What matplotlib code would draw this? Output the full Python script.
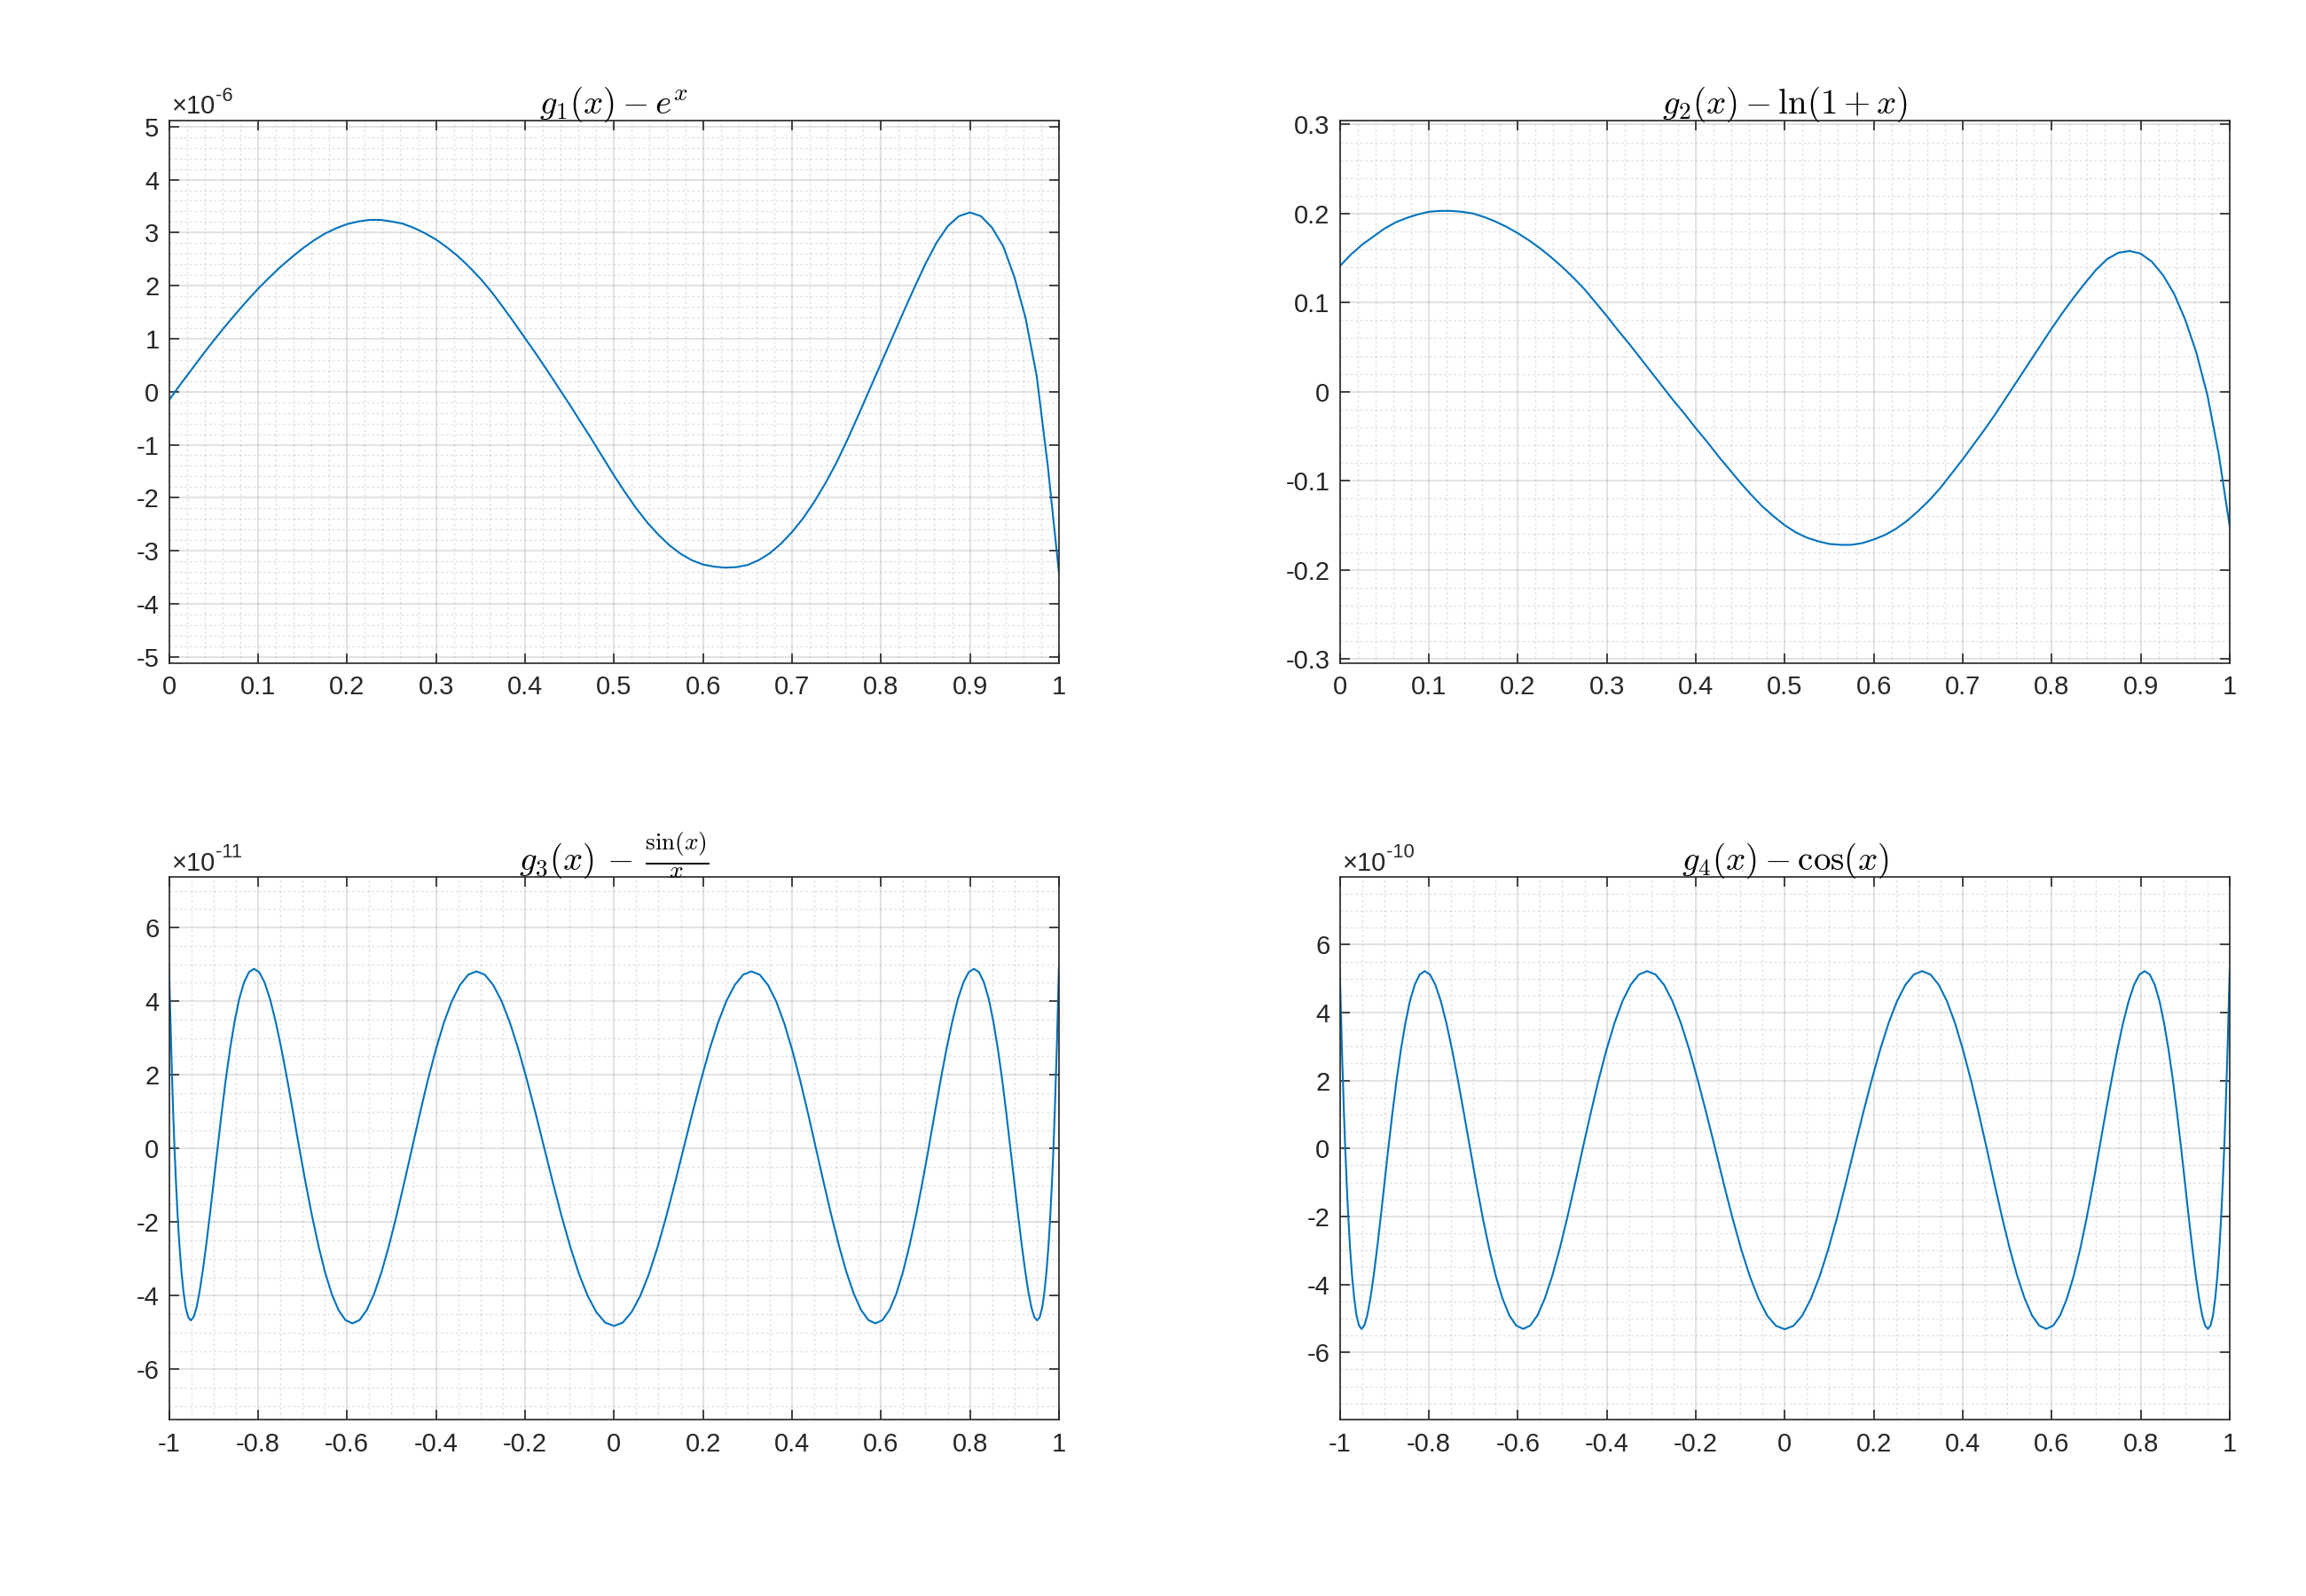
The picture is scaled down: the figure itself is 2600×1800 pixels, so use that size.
import numpy as np
import matplotlib
matplotlib.use('Agg')
from matplotlib import pyplot as plt
from matplotlib.ticker import MultipleLocator, FuncFormatter

plt.rcParams['font.family'] = ['Liberation Sans', 'DejaVu Sans']
plt.rcParams['mathtext.fontset'] = 'cm'
plt.rcParams['axes.unicode_minus'] = False

LINE_COLOR = '#0072BD'
AX_COLOR = '#262626'
FS = 10.5

# sample positions on [0, 1] for the two top plots
x_unit = [0.0, 0.0125, 0.025, 0.0375, 0.05, 0.0625, 0.075, 0.0875, 0.1, 0.1125,
          0.125, 0.1375, 0.15, 0.1625, 0.175, 0.1875, 0.2, 0.2125, 0.225, 0.2375,
          0.25, 0.2625, 0.275, 0.2875, 0.3, 0.3125, 0.325, 0.3375, 0.35, 0.3625,
          0.375, 0.3875, 0.4, 0.4125, 0.425, 0.4375, 0.45, 0.4625, 0.475, 0.4875,
          0.5, 0.5125, 0.525, 0.5375, 0.55, 0.5625, 0.575, 0.5875, 0.6, 0.6125,
          0.625, 0.6375, 0.65, 0.6625, 0.675, 0.6875, 0.7, 0.7125, 0.725, 0.7375,
          0.75, 0.7625, 0.775, 0.7875, 0.8, 0.8125, 0.825, 0.8375, 0.85, 0.8625,
          0.875, 0.8875, 0.9, 0.9125, 0.925, 0.9375, 0.95, 0.9625, 0.975, 0.9875, 1.0]

# g1(x) - e^x, in units of 1e-6
g1_y = [-0.16, 0.13, 0.41, 0.69, 0.96, 1.22, 1.47, 1.71, 1.94, 2.15,
        2.35, 2.53, 2.70, 2.85, 2.98, 3.08, 3.16, 3.21, 3.24, 3.24,
        3.21, 3.17, 3.09, 2.99, 2.87, 2.72, 2.55, 2.35, 2.13, 1.88,
        1.60, 1.31, 1.01, 0.71, 0.40, 0.08, -0.24, -0.57, -0.90, -1.24,
        -1.58, -1.90, -2.20, -2.47, -2.70, -2.90, -3.06, -3.18, -3.26, -3.30,
        -3.32, -3.31, -3.27, -3.18, -3.05, -2.87, -2.65, -2.39, -2.08, -1.73,
        -1.34, -0.90, -0.43, 0.05, 0.53, 1.01, 1.49, 1.96, 2.41, 2.81,
        3.12, 3.31, 3.38, 3.31, 3.09, 2.74, 2.16, 1.39, 0.30, -1.40, -3.41]
g1_exp = -6

# g2(x) - ln(1+x)
g2_y = [0.141, 0.154, 0.165, 0.174, 0.183, 0.190, 0.195, 0.199, 0.202, 0.203,
        0.203, 0.202, 0.200, 0.196, 0.191, 0.185, 0.178, 0.170, 0.161, 0.151,
        0.140, 0.128, 0.115, 0.100, 0.085, 0.069, 0.054, 0.038, 0.022, 0.006,
        -0.010, -0.025, -0.041, -0.056, -0.072, -0.087, -0.102, -0.116, -0.129, -0.140,
        -0.150, -0.158, -0.164, -0.168, -0.171, -0.172, -0.172, -0.170, -0.166, -0.161,
        -0.154, -0.145, -0.134, -0.122, -0.108, -0.092, -0.076, -0.059, -0.042, -0.024,
        -0.005, 0.014, 0.033, 0.052, 0.071, 0.089, 0.106, 0.122, 0.137, 0.149,
        0.156, 0.158, 0.155, 0.146, 0.131, 0.110, 0.081, 0.044, -0.004, -0.069, -0.151]

# sample positions on [-1, 1] for the two bottom plots (denser near the ends)
x_sym = [-1.0, -0.9998, -0.9992, -0.9983, -0.9969, -0.9952, -0.9931, -0.9906, -0.9877, -0.9844,
         -0.9808, -0.9768, -0.9724, -0.9676, -0.9625, -0.9569, -0.9511, -0.9448, -0.9382, -0.9312,
         -0.9239, -0.9162, -0.9081, -0.8998, -0.8910, -0.8819, -0.8725, -0.8627, -0.8526, -0.8423,
         -0.8315, -0.8204, -0.8090, -0.7973, -0.7853, -0.7730, -0.7604, -0.7475, -0.7343, -0.7208,
         -0.7071, -0.6931, -0.6788, -0.6642, -0.6494, -0.6344, -0.6191, -0.6036, -0.5878, -0.5718,
         -0.5556, -0.5391, -0.5225, -0.5057, -0.4886, -0.4714, -0.4540, -0.4364, -0.4187, -0.4007,
         -0.3827, -0.3645, -0.3461, -0.3276, -0.3090, -0.2903, -0.2714, -0.2525, -0.2334, -0.2143,
         -0.1951, -0.1758, -0.1564, -0.1370, -0.1175, -0.0980, -0.0785, -0.0589, -0.0393, -0.0196,
         0.0,
         0.0196, 0.0393, 0.0589, 0.0785, 0.0980, 0.1175, 0.1370, 0.1564, 0.1758, 0.1951,
         0.2143, 0.2334, 0.2525, 0.2714, 0.2903, 0.3090, 0.3276, 0.3461, 0.3645, 0.3827,
         0.4007, 0.4187, 0.4364, 0.4540, 0.4714, 0.4886, 0.5057, 0.5225, 0.5391, 0.5556,
         0.5718, 0.5878, 0.6036, 0.6191, 0.6344, 0.6494, 0.6642, 0.6788, 0.6931, 0.7071,
         0.7208, 0.7343, 0.7475, 0.7604, 0.7730, 0.7853, 0.7973, 0.8090, 0.8204, 0.8315,
         0.8423, 0.8526, 0.8627, 0.8725, 0.8819, 0.8910, 0.8998, 0.9081, 0.9162, 0.9239,
         0.9312, 0.9382, 0.9448, 0.9511, 0.9569, 0.9625, 0.9676, 0.9724, 0.9768, 0.9808,
         0.9844, 0.9877, 0.9906, 0.9931, 0.9952, 0.9969, 0.9983, 0.9992, 0.9998, 1.0]

# g3(x) - sin(x)/x, units of 1e-11
g3_y = [4.91, 4.82, 4.54, 4.08, 3.47, 2.73, 1.88, 0.96, 0.00, -0.91,
        -1.79, -2.60, -3.30, -3.88, -4.32, -4.58, -4.67, -4.58, -4.32, -3.88,
        -3.30, -2.60, -1.79, -0.91, 0.00, 0.95, 1.87, 2.71, 3.45, 4.06,
        4.51, 4.79, 4.88, 4.79, 4.51, 4.06, 3.45, 2.71, 1.87, 0.95,
        0.00, -0.93, -1.82, -2.64, -3.36, -3.95, -4.39, -4.66, -4.75, -4.66,
        -4.39, -3.95, -3.36, -2.64, -1.82, -0.93, 0.00, 0.94, 1.84, 2.67,
        3.40, 4.00, 4.44, 4.72, 4.81, 4.72, 4.44, 4.00, 3.40, 2.67,
        1.84, 0.94, 0.00, -0.94, -1.85, -2.68, -3.41, -4.01, -4.45, -4.73,
        -4.82,
        -4.73, -4.45, -4.01, -3.41, -2.68, -1.85, -0.94, 0.00, 0.94, 1.84,
        2.67, 3.40, 4.00, 4.44, 4.72, 4.81, 4.72, 4.44, 4.00, 3.40,
        2.67, 1.84, 0.94, 0.00, -0.93, -1.82, -2.64, -3.36, -3.95, -4.39,
        -4.66, -4.75, -4.66, -4.39, -3.95, -3.36, -2.64, -1.82, -0.93, 0.00,
        0.95, 1.87, 2.71, 3.45, 4.06, 4.51, 4.79, 4.88, 4.79, 4.51,
        4.06, 3.45, 2.71, 1.87, 0.95, 0.00, -0.91, -1.79, -2.60, -3.30,
        -3.88, -4.32, -4.58, -4.67, -4.58, -4.32, -3.88, -3.30, -2.60, -1.79,
        -0.91, 0.00, 0.96, 1.88, 2.73, 3.47, 4.08, 4.54, 4.82, 4.91]
g3_exp = -11

# g4(x) - cos(x), units of 1e-10
g4_y = [5.25, 5.15, 4.85, 4.36, 3.71, 2.92, 2.01, 1.02, 0.00, -1.04,
        -2.03, -2.95, -3.75, -4.41, -4.91, -5.21, -5.31, -5.21, -4.91, -4.41,
        -3.75, -2.95, -2.03, -1.04, 0.00, 1.02, 2.00, 2.90, 3.69, 4.34,
        4.82, 5.12, 5.22, 5.12, 4.82, 4.34, 3.69, 2.90, 2.00, 1.02,
        0.00, -1.04, -2.03, -2.95, -3.75, -4.41, -4.91, -5.21, -5.31, -5.21,
        -4.91, -4.41, -3.75, -2.95, -2.03, -1.04, 0.00, 1.02, 2.00, 2.90,
        3.69, 4.34, 4.82, 5.12, 5.22, 5.12, 4.82, 4.34, 3.69, 2.90,
        2.00, 1.02, 0.00, -1.04, -2.04, -2.96, -3.76, -4.42, -4.92, -5.22,
        -5.32,
        -5.22, -4.92, -4.42, -3.76, -2.96, -2.04, -1.04, 0.00, 1.02, 2.00,
        2.90, 3.69, 4.34, 4.82, 5.12, 5.22, 5.12, 4.82, 4.34, 3.69,
        2.90, 2.00, 1.02, 0.00, -1.04, -2.03, -2.95, -3.75, -4.41, -4.91,
        -5.21, -5.31, -5.21, -4.91, -4.41, -3.75, -2.95, -2.03, -1.04, 0.00,
        1.02, 2.00, 2.90, 3.69, 4.34, 4.82, 5.12, 5.22, 5.12, 4.82,
        4.34, 3.69, 2.90, 2.00, 1.02, 0.00, -1.04, -2.03, -2.95, -3.75,
        -4.41, -4.91, -5.21, -5.31, -5.21, -4.91, -4.41, -3.75, -2.95, -2.03,
        -1.04, 0.00, 1.02, 2.01, 2.92, 3.71, 4.36, 4.85, 5.15, 5.25]
g4_exp = -10

titles = [r'$g_1(x) - e^x$', r'$g_2(x) - \ln(1+x)$',
          r'$g_3(x)\,-\,\frac{\sin(x)}{x}$', r'$g_4(x) - \cos(x)$']


def fmt(v, pos):
    return '%g' % (round(v, 6) + 0.0)


def style(ax, xlim, xmaj, xmin, ymaj, ymin, ylim):
    ax.set_xlim(*xlim)
    ax.set_ylim(-ylim, ylim)
    ax.xaxis.set_major_locator(MultipleLocator(xmaj))
    ax.xaxis.set_minor_locator(MultipleLocator(xmin))
    ax.yaxis.set_major_locator(MultipleLocator(ymaj))
    ax.yaxis.set_minor_locator(MultipleLocator(ymin))
    ax.xaxis.set_major_formatter(FuncFormatter(fmt))
    ax.yaxis.set_major_formatter(FuncFormatter(fmt))
    ax.set_axisbelow(True)
    ax.grid(which='major', color=AX_COLOR, alpha=0.15, linewidth=0.6)
    ax.grid(which='minor', color=AX_COLOR, alpha=0.13, linewidth=0.5,
            linestyle=(0, (2, 2)))
    ax.tick_params(which='major', direction='in', length=3.8, width=0.6,
                   top=True, right=True, colors=AX_COLOR, labelsize=FS)
    ax.tick_params(axis='x', which='major', pad=5)
    ax.tick_params(axis='y', which='major', pad=4)
    ax.tick_params(which='minor', length=0)
    for s in ax.spines.values():
        s.set_color(AX_COLOR)
        s.set_linewidth(0.6)


def exponent(ax, e):
    t = ax.text(0.003, 1.013, '\u00d710', transform=ax.transAxes,
                ha='left', va='baseline', fontsize=FS, color=AX_COLOR)
    ax.annotate(str(e), xy=(1, 0.55), xycoords=t, ha='left', va='bottom',
                fontsize=FS * 0.75, color=AX_COLOR)


fig = plt.figure(figsize=(13, 9), dpi=200)
W, H = 0.3859, 0.3398
ax1 = fig.add_axes([0.0733, 0.5847, W, H])
ax2 = fig.add_axes([0.5810, 0.5847, W, H])
ax3 = fig.add_axes([0.0733, 0.1105, W, H])
ax4 = fig.add_axes([0.5810, 0.1105, W, H])

ax1.plot(x_unit, g1_y, color=LINE_COLOR, lw=0.75)
style(ax1, (0, 1), 0.1, 0.02, 1, 0.2, 1.5 * max(abs(v) for v in g1_y))
exponent(ax1, g1_exp)

ax2.plot(x_unit, g2_y, color=LINE_COLOR, lw=0.75)
style(ax2, (0, 1), 0.1, 0.02, 0.1, 0.02, 1.5 * max(abs(v) for v in g2_y))

ax3.plot(x_sym, g3_y, color=LINE_COLOR, lw=0.75)
style(ax3, (-1, 1), 0.2, 0.05, 2, 0.5, 1.5 * max(abs(v) for v in g3_y))
exponent(ax3, g3_exp)

ax4.plot(x_sym, g4_y, color=LINE_COLOR, lw=0.75)
style(ax4, (-1, 1), 0.2, 0.05, 2, 0.5, 1.5 * max(abs(v) for v in g4_y))
exponent(ax4, g4_exp)

for ax, t in zip([ax1, ax2, ax3, ax4], titles):
    ax.set_title(t, fontsize=14, pad=3, color='black')

fig.savefig('out.png', dpi=200, facecolor='white')
